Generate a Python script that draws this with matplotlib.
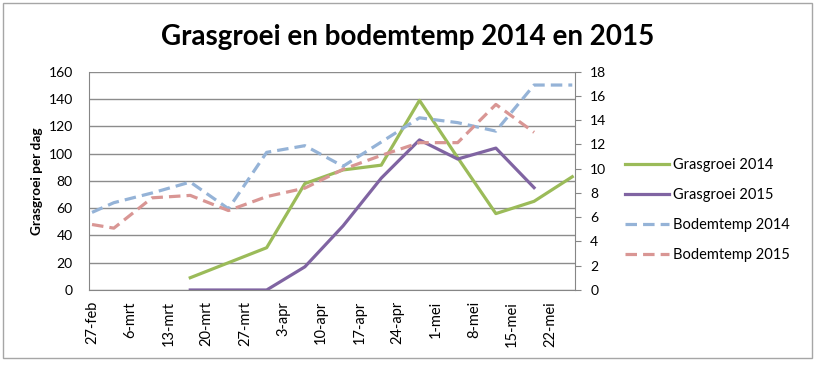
import matplotlib
matplotlib.use('Agg')
import matplotlib.pyplot as plt
from matplotlib.patches import Rectangle
import pandas as pd

plt.rcParams['font.family'] = ['Lato', 'DejaVu Sans']

# ---- data ----
temp_dates = ['2015-02-27', '2015-03-03', '2015-03-10', '2015-03-17', '2015-03-24',
              '2015-03-31', '2015-04-07', '2015-04-14', '2015-04-21', '2015-04-28',
              '2015-05-05', '2015-05-12', '2015-05-19', '2015-05-26']
gras_dates = temp_dates[3:]

gras_2014 = [9, 20, 31, 78, 88, 91.5, 139, 97, 56, 65, 83]
gras_2015 = [0, 0, 0, 17, 47, 82, 110, 96, 104, 75]
temp_2014 = [6.4, 7.2, 8.0, 8.9, 6.7, 11.35, 11.9, 10.2, 12.2, 14.2, 13.8, 13.1, 16.9, 16.9]
temp_2015 = [5.4, 5.1, 7.6, 7.8, 6.55, 7.7, 8.4, 9.95, 11.1, 12.15, 12.15, 15.3, 13.0]

tick_labels = ['27-feb', '6-mrt', '13-mrt', '20-mrt', '27-mrt', '3-apr', '10-apr',
               '17-apr', '24-apr', '1-mei', '8-mei', '15-mei', '22-mei']

series_names = ['Grasgroei 2014', 'Grasgroei 2015', 'Bodemtemp 2014', 'Bodemtemp 2015']
title = 'Grasgroei en bodemtemp 2014 en 2015'
ylabel = 'Grasgroei per dag'

# ---- styles ----
c_green = '#9BBB59'
c_purple = '#8064A2'
c_blue = '#95B3D7'
c_red = '#D99694'
c_axis = '#868686'
c_grid = '#8c8c8c'

t_dates = pd.to_datetime(temp_dates)
g_dates = pd.to_datetime(gras_dates)
tick_dates = pd.date_range('2015-02-27', periods=len(tick_labels), freq='7D')

fig = plt.figure(figsize=(8.16, 3.65), dpi=100)
fig.patches.append(Rectangle((3 / 816, 1 - 358 / 365), 809 / 816, 355 / 365,
                             transform=fig.transFigure, fill=False,
                             edgecolor='#a6a6a6', linewidth=1))

ax = fig.add_axes([89.3 / 816, 1 - 290 / 365, (575 - 89.3) / 816, (290 - 71.7) / 365])
ax2 = ax.twinx()

lw = 2.3
l1, = ax.plot(g_dates, gras_2014, color=c_green, lw=lw)
l2, = ax.plot(g_dates[:len(gras_2015)], gras_2015, color=c_purple, lw=lw)
l3, = ax2.plot(t_dates, temp_2014, color=c_blue, lw=lw, dashes=(3.6, 1.9))
l4, = ax2.plot(t_dates[:len(temp_2015)], temp_2015, color=c_red, lw=lw, dashes=(3.6, 1.9))

ax.set_ylim(0, 160)
ax.set_yticks(range(0, 161, 20))
ax2.set_ylim(0, 18)
ax2.set_yticks(range(0, 19, 2))

ax.set_xlim(pd.Timestamp('2015-02-26 12:00'), pd.Timestamp('2015-05-26 12:00'))
ax.set_xticks(tick_dates)
ax.set_xticklabels(tick_labels, rotation=90)

ax.yaxis.grid(True, color=c_grid, lw=1)
ax.set_axisbelow(True)

for s in ['top', 'right']:
    ax.spines[s].set_visible(False)
for s in ['left', 'bottom']:
    ax.spines[s].set_color(c_axis)
for s in ['top', 'left', 'bottom']:
    ax2.spines[s].set_visible(False)
ax2.spines['right'].set_color(c_axis)

ax.tick_params(axis='y', length=0, pad=12, labelsize=10)
ax.tick_params(axis='x', length=0, pad=8, labelsize=10.5)
ax2.tick_params(axis='y', length=4, color=c_axis, pad=7, labelsize=10)

fig.text(0.5, 1 - 37 / 365, title, ha='center', va='center', fontsize=20, fontweight='bold')
fig.text(37 / 816, 1 - 181 / 365, ylabel, ha='center', va='center', rotation=90,
         fontsize=9.8, fontweight='bold')

fig.legend([l1, l2, l3, l4], series_names, loc='upper left',
           bbox_to_anchor=(625 / 816, 1 - 158 / 365), frameon=False,
           fontsize=10.5, handlelength=3.0, handletextpad=0.3, labelspacing=1.1,
           borderpad=0, borderaxespad=0)

fig.savefig('out.png', dpi=100)
